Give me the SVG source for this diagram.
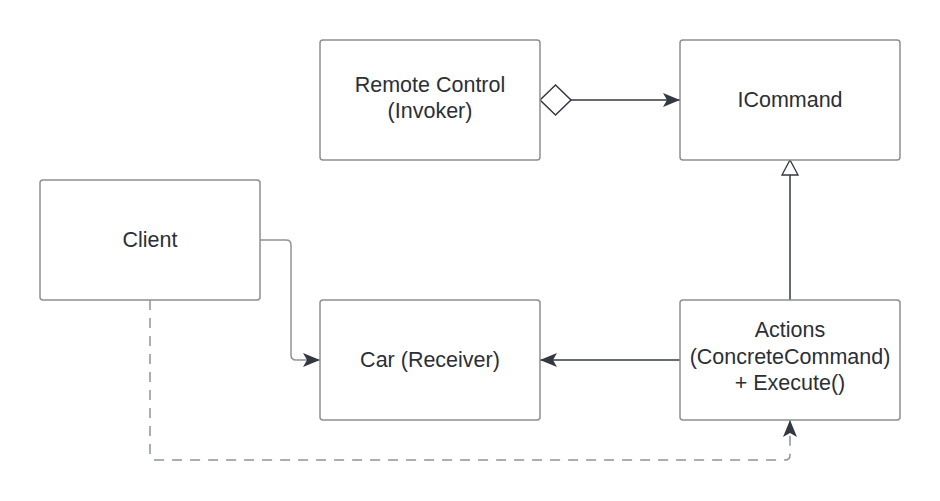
<svg xmlns="http://www.w3.org/2000/svg" width="940" height="501" viewBox="0 0 940 501">
<defs>
<style>
.box{fill:#fff;stroke:#8f8f93;stroke-width:1.5}
.t{font-family:"Liberation Sans",Arial,sans-serif;font-size:21.5px;fill:#2b2f36;text-anchor:middle}
.ln{fill:none;stroke:#333842;stroke-width:1.5}
.lg{fill:none;stroke:#8f9399;stroke-width:1.5}
.ds{fill:none;stroke:#8f9399;stroke-width:1.5;stroke-dasharray:10,8}
</style>
<marker id="fa" markerWidth="18" markerHeight="14" refX="17" refY="7" orient="auto" markerUnits="userSpaceOnUse">
<path d="M0,0 L17,7 L0,14 L4,7 Z" fill="#333842"/>
</marker>
</defs>
<rect width="940" height="501" fill="#fff"/>
<g id="connectors">
<path d="M571,100 L680,100" class="ln" marker-end="url(#fa)"/>
<path d="M540,100 L555.5,85 L571,100 L555.5,115 Z" fill="#fff" stroke="#333842" stroke-width="1.5"/>
<path d="M790,300 L790,175" class="ln"/>
<path d="M782,175 L790,160 L798,175 Z" fill="#fff" stroke="#333842" stroke-width="1.3"/>
<path d="M260,240 L286,240 Q291,240 291,245 L291,355 Q291,360 296,360 L320,360" class="lg" marker-end="url(#fa)"/>
<path d="M680,360 L540,360" class="ln" marker-end="url(#fa)"/>
<path d="M150,300 L150,455 Q150,460 155,460 L785,460 Q790,460 790,455 L790,420" class="ds" marker-end="url(#fa)"/>
</g>
<g id="remote"><rect class="box" x="320" y="40" width="220" height="120" rx="3"/><text class="t" x="430" y="92">Remote Control</text><text class="t" x="430" y="118">(Invoker)</text></g>
<g id="icommand"><rect class="box" x="680" y="40" width="220" height="120" rx="3"/><text class="t" x="790" y="107">ICommand</text></g>
<g id="client"><rect class="box" x="40" y="180" width="220" height="120" rx="3"/><text class="t" x="150" y="247">Client</text></g>
<g id="car"><rect class="box" x="320" y="300" width="220" height="120" rx="3"/><text class="t" x="430" y="367">Car (Receiver)</text></g>
<g id="actions"><rect class="box" x="680" y="300" width="220" height="120" rx="3"/><text class="t" x="790" y="337">Actions</text><text class="t" x="790" y="364">(ConcreteCommand)</text><text class="t" x="790" y="390">+ Execute()</text></g>
</svg>
